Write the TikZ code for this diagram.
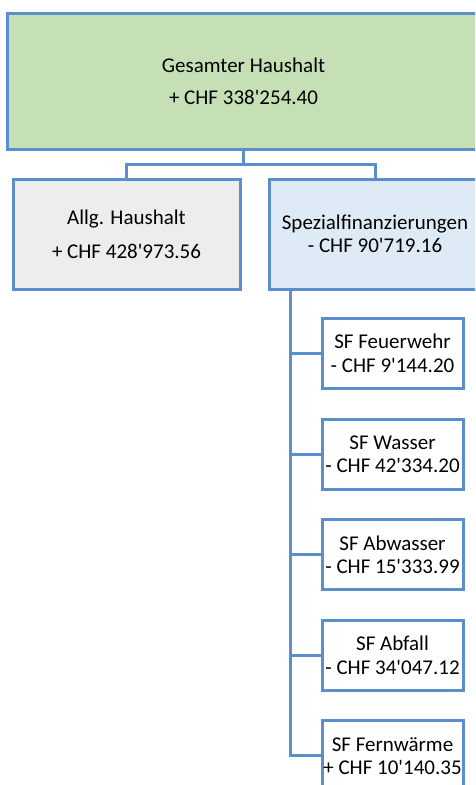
\documentclass[tikz,border=0pt]{standalone}
\usepackage{fontspec}
\newfontfamily\calib{Carlito}
\definecolor{rand}{HTML}{5A8FCB}
\definecolor{gruen}{HTML}{C5E0B4}
\definecolor{grau}{HTML}{EDEDED}
\definecolor{hellblau}{HTML}{DEEBF7}
\tikzset{
  kasten/.style={draw=rand, line width=3pt, rectangle, align=center, inner sep=0pt,
    font=\calib\fontsize{21}{23.5}\selectfont},
  linie/.style={draw=rand, line width=3pt}
}
\begin{document}
\begin{tikzpicture}[x=1pt, y=-1pt, line join=miter]
            \useasboundingbox (0,0) rectangle (475,785);
            \clip (0,0) rectangle (475,785);
            \def\dy{100.6} % Abstand der SF-Kaesten
            \node[kasten, fill=gruen, minimum width=472pt, minimum height=136pt] (ges) at (243.5,81)
                {Gesamter Haushalt\\[8.5pt]+ CHF 338'254.40};
            \node[kasten, fill=grau, minimum width=227pt, minimum height=110pt] (allg) at (126.5,234)
                {Allg. Haushalt\\[10.5pt]+ CHF 428'973.56};
            \node[kasten, fill=hellblau, minimum width=212pt, minimum height=110pt] (spez) at (375,234)
                {Spezialfinanzierungen\\- CHF 90'719.16};
            \coordinate (j) at (243.5,164);
            \draw[linie] (ges.south) -- (j);
            \draw[linie] (allg.north) |- (j) -| (spez.north);
            \foreach \n/\t [count=\i from 0] in {feu/{SF Feuerwehr\\- CHF 9'144.20},
                wass/{SF Wasser\\- CHF 42'334.20},
                abw/{SF Abwasser\\- CHF 15'333.99},
                abf/{SF Abfall\\- CHF 34'047.12},
                fern/{SF Fernwärme\\+ CHF 10'140.35}}
                \node[kasten, fill=white, minimum width=141pt, minimum height=70pt] (\n) at (392.5,353.5+\i*\dy) {\t};
            \coordinate (stamm) at (290,289);
            \draw[linie] (stamm) |- (fern.west);
            \foreach \n in {feu,wass,abw,abf}
                \draw[linie] (\n.west) -- (\n.west -| stamm);
        \end{tikzpicture}
\end{document}
